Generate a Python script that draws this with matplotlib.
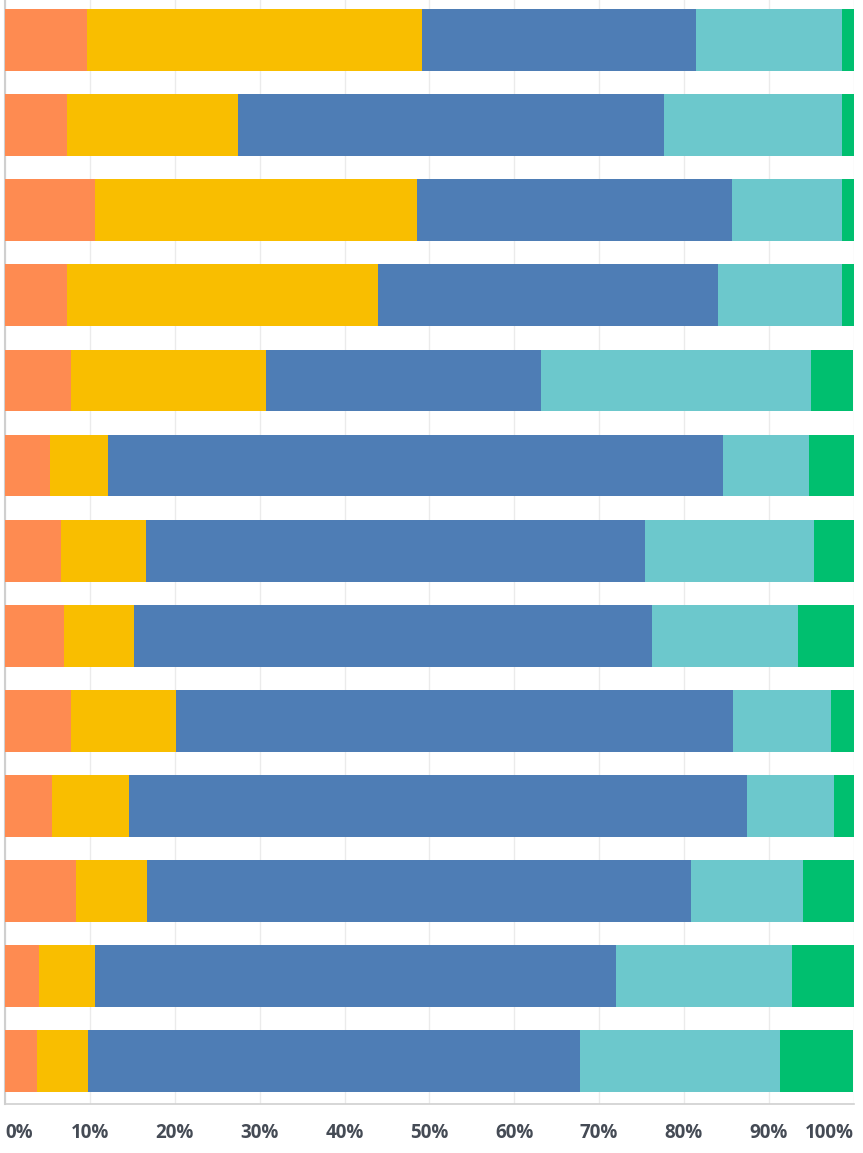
import matplotlib
matplotlib.use("Agg")
import matplotlib.pyplot as plt
import numpy as np

# Parts de chaque catégorie (%), une ligne par barre, de haut en bas
orange = [9.6, 7.3, 10.6, 7.3, 7.7, 5.3, 6.6, 6.9, 7.7, 5.5, 8.3, 4.0, 3.7]
jaune = [39.5, 20.1, 37.9, 36.6, 23.0, 6.8, 10.0, 8.3, 12.4, 9.1, 8.4, 6.6, 6.0]
bleu = [32.3, 50.2, 37.2, 40.1, 32.5, 72.5, 58.8, 61.0, 65.7, 72.8, 64.1, 61.4, 58.0]
turquoise = [17.3, 21.0, 12.9, 14.7, 31.8, 10.1, 19.9, 17.3, 11.6, 10.3, 13.3, 20.8, 23.6]
vert = [1.3, 1.4, 1.4, 1.3, 4.9, 5.4, 4.7, 6.6, 2.6, 2.3, 5.9, 7.2, 8.6]

xticks = [0, 10, 20, 30, 40, 50, 60, 70, 80, 90, 100]
xlabels = ["0%", "10%", "20%", "30%", "40%", "50%", "60%", "70%", "80%", "90%", "100%"]

series = [orange, jaune, bleu, turquoise, vert]
colors = ["#FE8B51", "#F9BE00", "#4E7DB5", "#6CC8CC", "#00BF6F"]

W, H = 863, 1153
fig = plt.figure(figsize=(W / 100, H / 100), dpi=100)
ax = fig.add_axes([5.3 / W, (H - 1103.9) / H, 848.2 / W, 1106.5 / H])

y = np.arange(len(orange))
left = np.zeros(len(orange))
for vals, c in zip(series, colors):
    vals = np.array(vals)
    ax.barh(y, vals, left=left, height=0.726, color=c, zorder=3)
    left += vals

ax.set_xlim(0, 100)
ax.set_ylim(len(orange) - 0.5, -0.5)
ax.set_yticks([])
ax.set_xticks(xticks)
ax.set_xticklabels(xlabels, fontfamily="Open Sans", fontweight="bold",
                   fontsize=13.5, color="#454b55")
labels = ax.get_xticklabels()
labels[0].set_horizontalalignment("left")
labels[-1].set_horizontalalignment("right")
ax.tick_params(axis="x", length=0, pad=14)
ax.grid(axis="x", color="#ebebeb", linewidth=1, zorder=0)

for s in ["top", "right"]:
    ax.spines[s].set_visible(False)
ax.spines["left"].set_color("#cfcfcf")
ax.spines["left"].set_linewidth(1.5)
ax.spines["bottom"].set_color("#d0d0d0")
ax.spines["bottom"].set_linewidth(1.2)

fig.savefig("out.png", dpi=100)
